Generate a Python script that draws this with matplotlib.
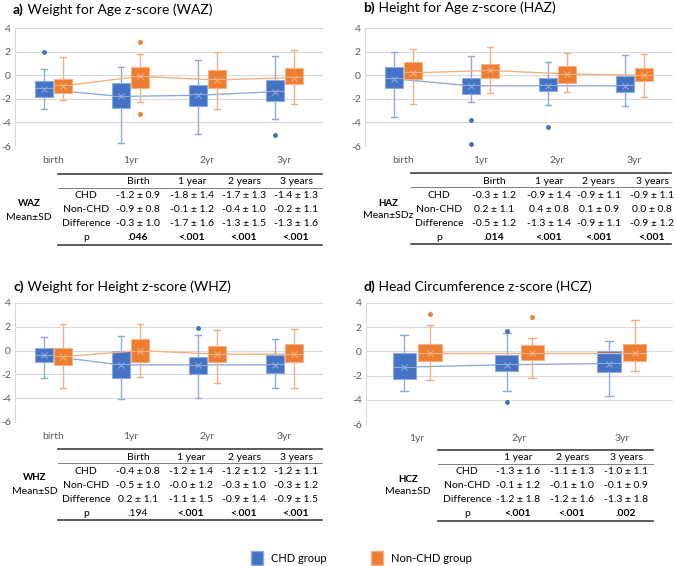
import numpy as np
import matplotlib.pyplot as plt
from matplotlib.patches import Patch

plt.rcParams['font.family'] = ['Lato', 'DejaVu Sans']
plt.rcParams['axes.unicode_minus'] = False

W, H = 676, 566
BLUE, ORANGE = "#4472C4", "#ED7D31"
BLUE_L, ORANGE_L = "#8FAADC", "#F4B183"

# box stats per time point: [whisker low, q1, median, q3, whisker high]
waz_labels = ["birth", "1yr", "2yr", "3yr"]
waz_chd = [[-2.88, -1.81, -1.1, -0.53, 0.54], [-5.77, -2.74, -1.8, -0.65, 0.69],
           [-5.0, -2.6, -1.6, -0.82, 1.28], [-3.7, -2.15, -1.3, -0.39, 1.62]]
waz_non = [[-2.09, -1.47, -0.85, -0.31, 1.54], [-2.23, -1.1, -0.05, 0.69, 1.79],
           [-2.83, -1.1, -0.35, 0.4, 1.96], [-2.46, -0.76, -0.15, 0.63, 2.13]]
waz_chd_mean = [-1.2, -1.8, -1.7, -1.4]
waz_non_mean = [-0.9, -0.1, -0.4, -0.2]
waz_chd_out = [[1.96], [], [], [-5.04]]
waz_non_out = [[], [2.84, -3.28], [], []]

haz_labels = ["birth", "1yr", "2yr", "3yr"]
haz_chd = [[-3.56, -1.1, -0.25, 0.69, 1.96], [-2.29, -1.58, -0.85, -0.22, 1.59],
           [-2.54, -1.35, -0.8, -0.22, 1.14], [-2.63, -1.41, -0.85, -0.05, 1.71]]
haz_non = [[-2.4, -0.31, 0.25, 1.14, 2.22], [-1.55, -0.22, 0.4, 0.94, 2.36],
           [-1.41, -0.7, 0.1, 0.8, 1.88], [-1.81, -0.45, 0.0, 0.63, 1.79]]
haz_chd_mean = [-0.3, -0.9, -0.9, -0.9]
haz_non_mean = [0.2, 0.4, 0.1, 0.0]
haz_chd_out = [[], [-3.76, -5.86], [-4.36], []]
haz_non_out = [[], [], [], []]

whz_labels = ["birth", "1yr", "2yr", "3yr"]
whz_chd = [[-2.34, -0.93, -0.35, 0.25, 1.18], [-4.08, -2.34, -1.1, 0.0, 1.21],
           [-4.0, -2.0, -1.2, -0.51, 1.32], [-3.15, -1.92, -1.15, -0.39, 0.99]]
whz_non = [[-3.18, -1.21, -0.45, 0.23, 2.23], [-2.25, -0.99, 0.0, 0.99, 2.23],
           [-2.73, -0.93, -0.3, 0.37, 1.75], [-3.15, -0.99, -0.3, 0.54, 1.83]]
whz_chd_mean = [-0.4, -1.2, -1.2, -1.2]
whz_non_mean = [-0.5, -0.0, -0.3, -0.3]
whz_chd_out = [[], [], [1.89], []]
whz_non_out = [[], [], [], []]

hcz_labels = ["1yr", "2yr", "3yr"]
hcz_chd = [[-3.31, -2.31, -1.25, -0.14, 1.38], [-3.31, -1.63, -1.05, -0.33, 1.5],
           [-3.69, -1.71, -0.95, 0.06, 0.83]]
hcz_non = [[-2.34, -0.83, -0.1, 0.61, 2.2], [-2.18, -0.74, -0.1, 0.52, 1.13],
           [-1.6, -0.83, -0.1, 0.61, 2.62]]
hcz_chd_mean = [-1.3, -1.1, -1.0]
hcz_non_mean = [-0.1, -0.1, -0.1]
hcz_chd_out = [[], [1.65, -4.21], []]
hcz_non_out = [[3.06], [2.84], []]

# table contents
row_names = ["CHD", "Non-CHD", "Difference", "p"]
waz_head = ["Birth", "1 year", "2 years", "3 years"]
waz_rows = [["-1.2 ± 0.9", "-1.8 ± 1.4", "-1.7 ± 1.3", "-1.4 ± 1.3"],
            ["-0.9 ± 0.8", "-0.1 ± 1.2", "-0.4 ± 1.0", "-0.2 ± 1.1"],
            ["-0.3 ± 1.0", "-1.7 ± 1.6", "-1.3 ± 1.5", "-1.3 ± 1.6"]]
waz_p = [".046", "<.001", "<.001", "<.001"]
waz_p_bold = [True, True, True, True]

haz_head = ["Birth", "1 year", "2 years", "3 years"]
haz_rows = [["-0.3 ± 1.2", "-0.9 ± 1.4", "-0.9 ± 1.1", "-0.9 ± 1.1"],
            ["0.2 ± 1.1", "0.4 ± 0.8", "0.1 ± 0.9", "0.0 ± 0.8"],
            ["-0.5 ± 1.2", "-1.3 ± 1.4", "-0.9 ± 1.1", "-0.9 ± 1.2"]]
haz_p = [".014", "<.001", "<.001", "<.001"]
haz_p_bold = [True, True, True, True]

whz_head = ["Birth", "1 year", "2 years", "3 years"]
whz_rows = [["-0.4 ± 0.8", "-1.2 ± 1.4", "-1.2 ± 1.2", "-1.2 ± 1.1"],
            ["-0.5 ± 1.0", "-0.0 ± 1.2", "-0.3 ± 1.0", "-0.3 ± 1.2"],
            ["0.2 ± 1.1", "-1.1 ± 1.5", "-0.9 ± 1.4", "-0.9 ± 1.5"]]
whz_p = [".194", "<.001", "<.001", "<.001"]
whz_p_bold = [False, True, True, True]

hcz_head = ["1 year", "2 years", "3 years"]
hcz_rows = [["-1.3 ± 1.6", "-1.1 ± 1.3", "-1.0 ± 1.1"],
            ["-0.1 ± 1.2", "-0.1 ± 1.0", "-0.1 ± 0.9"],
            ["-1.2 ± 1.8", "-1.2 ± 1.6", "-1.3 ± 1.8"]]
hcz_p = ["<.001", "<.001", ".002"]
hcz_p_bold = [True, True, True]


def px_rect(left, top, right, bottom):
    return [left / W, 1 - bottom / H, (right - left) / W, (bottom - top) / H]


def draw_panel(ax, labels, chd, non, chd_mean, non_mean, chd_out, non_out):
    x = np.arange(len(labels))
    groups = [(chd, chd_mean, chd_out, -0.125, BLUE, BLUE_L),
              (non, non_mean, non_out, 0.125, ORANGE, ORANGE_L)]
    for stats, means, outs, off, c, cl in groups:
        bx = [dict(whislo=s[0], q1=s[1], med=s[2], q3=s[3], whishi=s[4],
                   mean=m, fliers=o) for s, m, o in zip(stats, means, outs)]
        ax.plot(x + off, means, color=cl, lw=1, zorder=2)
        ax.bxp(bx, positions=x + off, widths=0.23, patch_artist=True,
               showmeans=True, manage_ticks=False, capwidths=0.08,
               boxprops=dict(facecolor=c, edgecolor=cl, linewidth=0.8),
               medianprops=dict(color=cl, linewidth=0.8),
               whiskerprops=dict(color=cl, linewidth=1),
               capprops=dict(color=cl, linewidth=1),
               meanprops=dict(marker='x', markeredgecolor=cl, markersize=4,
                              markeredgewidth=0.8),
               flierprops=dict(marker='o', markerfacecolor=c, markeredgecolor=c,
                               markersize=2.5))
    ax.set_xlim(-0.5, len(labels) - 0.5)
    ax.set_ylim(-6, 4)
    ax.set_yticks(range(-6, 5, 2))
    ax.set_xticks(x, labels)
    ax.grid(axis='y', color='#D9D9D9', lw=0.8)
    ax.set_axisbelow(True)
    for s in ['top', 'right', 'bottom']:
        ax.spines[s].set_visible(False)
    ax.spines['left'].set_color('#D9D9D9')
    ax.tick_params(axis='y', length=0, labelsize=7.5, labelcolor='#595959', pad=3)
    ax.tick_params(axis='x', length=0, labelsize=7.5, labelcolor='#595959', pad=7)


def draw_title(x, y, tag, text):
    t = fig.text(x / W, 1 - y / H, tag, fontsize=10, fontweight='bold', va='center')
    ov.annotate(" " + text, xy=(1, 0.5), xycoords=t, va='center', ha='left',
                fontsize=10)


def draw_table(top, x0, x1, label_x, col_x, head, rows, pvals, pbold, name, sub, name_x, name_y):
    fs = 7.5
    ov.plot([x0, x1], [top, top], color='#404040', lw=1.2)
    ov.plot([x0, x1], [top + 14, top + 14], color='#7F7F7F', lw=0.7)
    ov.plot([x0, x1], [top + 71, top + 71], color='#404040', lw=1.2)
    for cx, h in zip(col_x, head):
        ov.text(cx, top + 8, h, ha='center', va='center', fontsize=fs)
    for i, rn in enumerate(row_names):
        ov.text(label_x, top + 22 + 14 * i, rn, ha='center', va='center', fontsize=fs)
    for i, r in enumerate(rows):
        for cx, v in zip(col_x, r):
            ov.text(cx, top + 22 + 14 * i, v, ha='center', va='center', fontsize=fs)
    for cx, v, b in zip(col_x, pvals, pbold):
        ov.text(cx, top + 64, v, ha='center', va='center', fontsize=fs,
                fontweight='bold' if b else 'normal')
    ov.text(name_x, name_y, name, ha='center', va='center', fontsize=7, fontweight='bold')
    ov.text(name_x, name_y + 13, sub, ha='center', va='center', fontsize=fs)


fig = plt.figure(figsize=(W / 100, H / 100), dpi=100)
ov = fig.add_axes([0, 0, 1, 1])
ov.set_xlim(0, W)
ov.set_ylim(H, 0)
ov.axis('off')

ax_a = fig.add_axes(px_rect(15, 28, 323, 146))
draw_panel(ax_a, waz_labels, waz_chd, waz_non, waz_chd_mean, waz_non_mean, waz_chd_out, waz_non_out)
ax_b = fig.add_axes(px_rect(365, 28, 673, 146))
draw_panel(ax_b, haz_labels, haz_chd, haz_non, haz_chd_mean, haz_non_mean, haz_chd_out, haz_non_out)
ax_c = fig.add_axes(px_rect(15, 303, 323, 422))
draw_panel(ax_c, whz_labels, whz_chd, whz_non, whz_chd_mean, whz_non_mean, whz_chd_out, whz_non_out)
ax_d = fig.add_axes(px_rect(366, 303, 673, 424))
draw_panel(ax_d, hcz_labels, hcz_chd, hcz_non, hcz_chd_mean, hcz_non_mean, hcz_chd_out, hcz_non_out)

draw_title(13, 10, "a)", "Weight for Age z-score (WAZ)")
draw_title(363, 8, "b)", "Height for Age z-score (HAZ)")
draw_title(13, 287, "c)", "Weight for Height z-score (WHZ)")
draw_title(363, 287, "d)", "Head Circumference z-score (HCZ)")

draw_table(174, 58, 322, 86, [138, 192, 244, 296], waz_head, waz_rows, waz_p, waz_p_bold,
           "WAZ", "Mean±SD", 29, 204)
draw_table(173, 411, 671, 439, [494, 549, 599, 652], haz_head, haz_rows, haz_p, haz_p_bold,
           "HAZ", "Mean±SDz", 388, 203)
draw_table(449, 58, 322, 86, [138, 191, 244, 296], whz_head, whz_rows, whz_p, whz_p_bold,
           "WHZ", "Mean±SD", 35, 478)
draw_table(450, 438, 653, 467, [518, 572, 626], hcz_head, hcz_rows, hcz_p, hcz_p_bold,
           "HCZ", "Mean±SD", 408, 479)

handles = [Patch(facecolor=BLUE, edgecolor=BLUE_L), Patch(facecolor=ORANGE, edgecolor=ORANGE_L)]
fig.legend(handles, ["CHD group", "Non-CHD group"], loc='center',
           bbox_to_anchor=(361 / W, 1 - 558 / H), ncol=2, frameon=False,
           fontsize=8, handlelength=1.1, handleheight=1.6, columnspacing=4.0,
           handletextpad=0.7)

fig.savefig("out.png", dpi=100)
